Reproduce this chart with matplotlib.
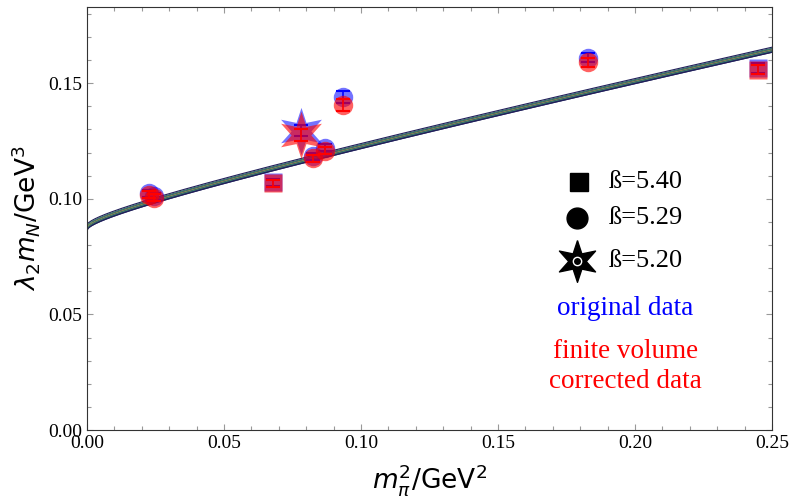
import numpy as np
import matplotlib
matplotlib.use("Agg")
import matplotlib.pyplot as plt
from matplotlib.ticker import MultipleLocator, FormatStrFormatter

# ---- data ----
x540 = [0.068, 0.245]
y540_orig = [0.1072, 0.1566]
y540_corr = [0.1068, 0.1558]
e540 = [0.0015, 0.0020]

x529 = [0.0225, 0.0245, 0.0825, 0.0870, 0.0935, 0.1830]
y529_orig = [0.1025, 0.1012, 0.1185, 0.1222, 0.1440, 0.1610]
y529_corr = [0.1018, 0.1005, 0.1175, 0.1208, 0.1405, 0.1590]
e529 = [0.0015, 0.0015, 0.0015, 0.0015, 0.0025, 0.0020]

x520 = [0.0780]
y520_orig = [0.1295]
y520_corr = [0.1275]
e520 = [0.0025]

# chiral fit: y = a + b*sqrt(x) + c*x
fit_a, fit_b, fit_c = 0.0875, 0.0390, 0.2300
band_half = 0.0011

plt.rcParams['font.family'] = ['Liberation Serif', 'DejaVu Serif']
plt.rcParams['mathtext.fontset'] = 'dejavusans'

# thin six-pointed star marker shape
ang = np.deg2rad(90 + 30 * np.arange(12))
rad = np.where(np.arange(12) % 2 == 0, 1.0, 0.42)
star = list(zip(rad * np.cos(ang), rad * np.sin(ang)))
star.append(star[0])

fig = plt.figure(figsize=(7.91, 4.98), dpi=100)
ax = fig.add_axes([0.110, 0.1365, 0.866, 0.8495])

xs = np.linspace(0, 0.25, 600)
base = fit_a + fit_b * np.sqrt(xs) + fit_c * xs
ax.fill_between(xs, base - band_half, base + band_half, color='#2a2a66', lw=0, zorder=1)
ax.plot(xs, base + band_half, color='#20205a', lw=0.8, zorder=2)
ax.plot(xs, base - band_half, color='#20205a', lw=0.8, zorder=2)
ax.plot(xs, base + band_half * 0.45, color='#3d8f6a', lw=0.6, zorder=2)
ax.plot(xs, base - band_half * 0.45, color='#3d8f6a', lw=0.6, zorder=2)
ax.plot(xs, base, color='#a8a850', lw=0.5, zorder=2)

def draw(xv, yo, yc, ev, marker, ms):
    ax.errorbar(xv, yo, yerr=ev, fmt='none', ecolor='blue', elinewidth=1.2, capsize=5, capthick=1.5, zorder=3)
    ax.plot(xv, yo, ls='none', marker=marker, ms=ms, mfc=(0, 0, 1, 0.55), mec='none', zorder=3)
    ax.plot(xv, yc, ls='none', marker=marker, ms=ms, mfc=(1, 0, 0, 0.62), mec='none', zorder=4)
    ax.errorbar(xv, yc, yerr=ev, fmt='none', ecolor='red', elinewidth=1.2, capsize=5, capthick=1.5, zorder=5)

draw(x540, y540_orig, y540_corr, e540, 's', 13)
draw(x529, y529_orig, y529_corr, e529, 'o', 14)
draw(x520, y520_orig, y520_corr, e520, star, 34)

ax.set_xlim(0, 0.25)
ax.set_ylim(0, 0.183)
ax.xaxis.set_major_locator(MultipleLocator(0.05))
ax.xaxis.set_minor_locator(MultipleLocator(0.01))
ax.yaxis.set_major_locator(MultipleLocator(0.05))
ax.yaxis.set_minor_locator(MultipleLocator(0.01))
ax.tick_params(which='both', direction='in', top=True, right=True, color='#999999', labelsize=14, width=0.8)
ax.tick_params(which='major', length=4)
ax.tick_params(which='minor', length=3)
ax.xaxis.set_major_formatter(FormatStrFormatter('%.2f'))
ax.yaxis.set_major_formatter(FormatStrFormatter('%.2f'))
for s in ax.spines.values():
    s.set_color('#333333')

ax.set_xlabel(r'$m_{\pi}^{2}$/GeV$^{2}$', fontsize=19, family='DejaVu Sans', labelpad=7)
ax.set_ylabel(r'$\lambda_2 m_{N}$/GeV$^{3}$', fontsize=19, family='DejaVu Sans', labelpad=4)

# legend
tkw = dict(fontsize=19, va='center')
ax.plot([0.1795], [0.1075], marker='s', ms=13, color='black', ls='none')
ax.text(0.1905, 0.1075, 'ß=5.40', **tkw)
ax.plot([0.1790], [0.0915], marker='o', ms=15, color='black', ls='none')
ax.text(0.1905, 0.0915, 'ß=5.29', **tkw)
ax.plot([0.1790], [0.0730], marker=star, ms=30, color='black', ls='none')
ax.plot([0.1790], [0.0730], marker='o', ms=6, mfc='black', mec='white', mew=1, ls='none')
ax.text(0.1905, 0.0730, 'ß=5.20', **tkw)
ax.text(0.1965, 0.0525, 'original data', color='blue', ha='center', fontsize=19.5, va='center')
ax.text(0.1965, 0.0340, 'finite volume', color='red', ha='center', fontsize=19.5, va='center')
ax.text(0.1965, 0.0210, 'corrected data', color='red', ha='center', fontsize=19.5, va='center')

fig.savefig('out.png', dpi=100)
